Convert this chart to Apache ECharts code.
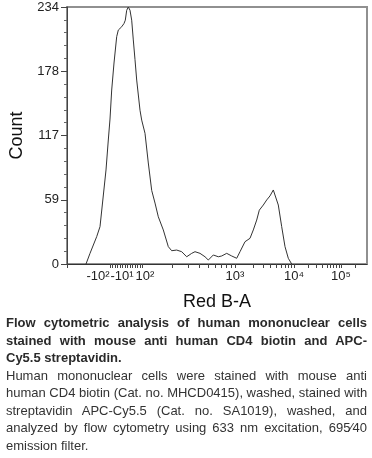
<!DOCTYPE html>
<html>
<head>
<meta charset="utf-8">
<script src="https://cdn.jsdelivr.net/npm/echarts@6/dist/echarts.min.js"></script>
<style>
  html, body { margin: 0; padding: 0; background: #fff; }
  #chart { position: absolute; left: 0; top: 0; width: 372px; height: 458px; }
  #caption { position: absolute; left: 6px; top: 314px; width: 361px;
    font-family: 'Liberation Sans', Arial, sans-serif; font-size: 13px; line-height: 17.5px; color: #333; }
  #caption span { display: block; text-align: justify; text-align-last: justify; white-space: nowrap; }
  #caption span.last { text-align-last: left; }
  #caption .b { font-weight: bold; color: #2a2a2a; }
</style>
</head>
<body>
<div id="chart"></div>
<div id="caption">
  <span class="b">Flow cytometric analysis of human mononuclear cells</span>
  <span class="b">stained with mouse anti human CD4 biotin and APC-</span>
  <span class="b last">Cy5.5 streptavidin.</span>
  <span>Human mononuclear cells were stained with mouse anti</span>
  <span>human CD4 biotin (Cat. no. MHCD0415), washed, stained with</span>
  <span>streptavidin APC-Cy5.5 (Cat. no. SA1019), washed, and</span>
  <span>analyzed by flow cytometry using 633 nm excitation, 695&#8260;40</span>
  <span class="last">emission filter.</span>
</div>
<script>
// Display-scale channel (logicle axis, 0..300) and event counts
const channel = [19, 23, 29.7, 33, 39, 41.3, 43, 44.7, 47, 49.7, 51.3, 54.7, 57, 58.3, 59.7, 61.3, 63, 64.7, 66.3, 68, 69.7, 73, 74.7, 78, 81.3, 84.7, 88, 91.3, 96.3, 101.3, 104.7, 109.7, 114.7, 119.7, 124.7, 128, 133, 138, 141.3, 146.3, 151.3, 154.7, 159.7, 164.7, 169.7, 173, 178, 183, 186.3, 189.7, 192.3, 193.7, 196.3, 199.7, 203, 206.3, 208, 211.3, 214.7, 218, 221.3, 224.7];
const counts = [0, 9.7, 24.9, 34, 85.6, 112.9, 132, 158.4, 183, 207, 213, 216, 219, 222, 231, 234, 231, 222, 204, 186, 167.5, 140, 131, 119, 92, 67, 55.5, 43, 31, 15.8, 12.1, 12.7, 11.2, 6.6, 9.7, 11.2, 9.7, 6.6, 3.6, 8.2, 6.6, 7.3, 9.7, 7.3, 5.2, 11.2, 20.3, 23.4, 31, 40, 49, 47.6, 53.7, 58.3, 62, 67.4, 65.8, 53.7, 34, 15.8, 5.2, 0];

// X axis (logicle) decade labels and their display positions
const xTickLabels = ['-10²', '-10¹', '10²', '10³', '10⁴', '10⁵'];
const xTickPos = [31, 55, 78, 168, 227, 274];
const xMinorTickPos = [0, 43, 45.5, 48, 50.5, 53, 55.5, 58, 60.5, 63, 65.5, 68, 70.5, 73, 75.5,
  105, 121, 132, 141, 148, 154, 159, 164, 168,
  185.8, 196.1, 203.5, 209.2, 213.9, 217.9, 221.3, 224.3, 227,
  241.1, 249.4, 255.3, 259.9, 263.6, 266.7, 269.4, 271.8, 274, 288];

// Y axis labels (quarters of max count)
const yTickLabels = ['0', '59', '117', '178', '234'];
const yMax = 234;

const font = "'Liberation Sans', Arial, sans-serif";
const chart = echarts.init(document.getElementById('chart'), null, { renderer: 'canvas' });
chart.setOption({
  animation: false,
  grid: { left: 67, top: 7, width: 300, height: 257, show: true, borderColor: '#909090', borderWidth: 2, containLabel: false, outerBoundsMode: 'none' },
  xAxis: {
    type: 'value', min: 0, max: 300,
    name: 'Red B-A', nameLocation: 'middle', nameGap: 29,
    nameTextStyle: { fontFamily: font, fontSize: 18, color: '#111' },
    axisLine: { show: true, lineStyle: { color: '#333', width: 1 } },
    axisTick: { show: true, length: 4, customValues: xMinorTickPos, lineStyle: { color: '#444' } },
    axisLabel: {
      show: true, customValues: xTickPos, margin: 6,
      fontFamily: font, fontSize: 13, color: '#222',
      formatter: function (v) { const i = xTickPos.indexOf(v); return i >= 0 ? xTickLabels[i] : ''; }
    },
    splitLine: { show: false }
  },
  yAxis: {
    type: 'value', min: 0, max: yMax, interval: yMax / 4,
    name: 'Count', nameLocation: 'middle', nameGap: 40,
    nameTextStyle: { fontFamily: font, fontSize: 18, color: '#111' },
    axisLine: { show: true, lineStyle: { color: '#444', width: 1 } },
    axisTick: { show: true, length: 6, lineStyle: { color: '#444' } },
    minorTick: { show: true, splitNumber: 5, length: 3, lineStyle: { color: '#666' } },
    axisLabel: {
      margin: 8, fontFamily: font, fontSize: 13, color: '#222',
      formatter: function (v, i) { return yTickLabels[Math.round(v / (yMax / 4))]; }
    },
    splitLine: { show: false }
  },
  series: [{
    type: 'line',
    data: channel.map((c, i) => [c, counts[i]]),
    symbol: 'none',
    lineStyle: { color: '#333', width: 1 },
    clip: true
  }]
});
</script>
</body>
</html>
